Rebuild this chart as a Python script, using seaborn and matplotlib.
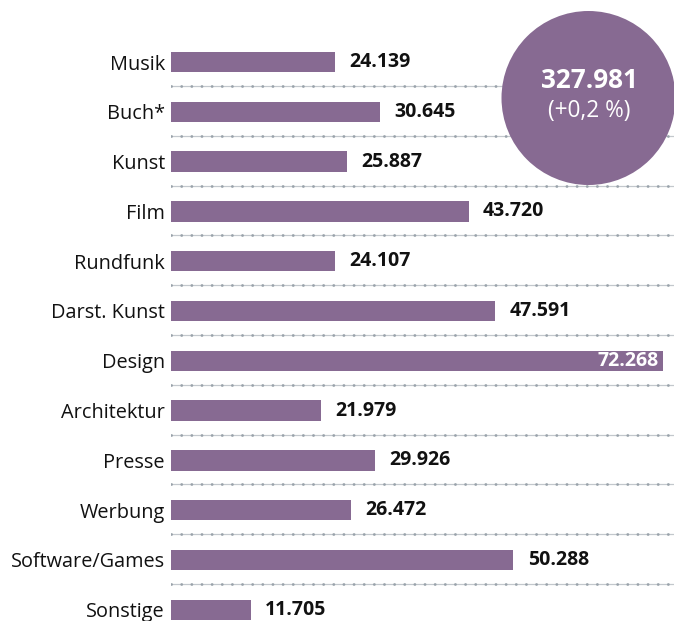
import matplotlib
matplotlib.use("Agg")
import matplotlib.pyplot as plt
import seaborn as sns
import pandas as pd
from matplotlib.patches import Circle

categories = ["Musik", "Buch*", "Kunst", "Film", "Rundfunk", "Darst. Kunst", "Design",
              "Architektur", "Presse", "Werbung", "Software/Games", "Sonstige"]
values = [24139, 30645, 25887, 43720, 24107, 47591, 72268, 21979, 29926, 26472, 50288, 11705]
total_label = "327.981"
change_label = "(+0,2 %)"

PURPLE = "#876a92"

sns.set_theme(style="white")
plt.rcParams["font.family"] = ["Open Sans", "DejaVu Sans"]

df = pd.DataFrame({"cat": categories, "val": values})

fig = plt.figure(figsize=(6.74, 6.21), dpi=100)
ax = fig.add_axes([171 / 674, 0, 503 / 674, 1])

sns.barplot(data=df, y="cat", x="val", orient="h", color=PURPLE, saturation=1,
            width=0.41, linewidth=0, edgecolor="none", ax=ax, zorder=3)

n = len(categories)
ax.set_xlim(0, 73880)
ax.set_ylim(11.225, -1.245)
for i in range(n - 1):
    ax.axhline(i + 0.48, color="#c3c8cd", lw=0.9, zorder=1)
    ax.axhline(i + 0.48, color="#9aa3ab", lw=2.0, linestyle=(0, (0.05, 3.6)),
               dash_capstyle="round", zorder=1.5)

for spine in ax.spines.values():
    spine.set_visible(False)
ax.set_xlabel("")
ax.set_ylabel("")
ax.set_xticks([])
ax.tick_params(axis="y", length=0, pad=4.5, labelsize=14.3, labelcolor="#111111")

xmax = ax.get_xlim()[1]
for i, v in enumerate(values):
    txt = f"{v:,}".replace(",", ".")
    if v > 0.9 * xmax:
        ax.text(v - 700, i, txt, ha="right", va="center", color="white",
                fontsize=14, fontweight="bold", zorder=4)
    else:
        ax.text(v + 2100, i, txt, ha="left", va="center", color="#111111",
                fontsize=14, fontweight="bold", zorder=4)

circ = Circle((5.885, 6.21 - 0.98), 0.87, transform=fig.dpi_scale_trans,
              facecolor=PURPLE, edgecolor="none", zorder=10, clip_on=False)
fig.add_artist(circ)
fig.text(589 / 674, 1 - 80 / 621, total_label, ha="center", va="center",
         color="white", fontsize=18.8, fontweight="bold", zorder=11)
fig.text(589 / 674, 1 - 111 / 621, change_label, ha="center", va="center",
         color="white", fontsize=16.3, zorder=11)

fig.savefig("out.png", dpi=100)
